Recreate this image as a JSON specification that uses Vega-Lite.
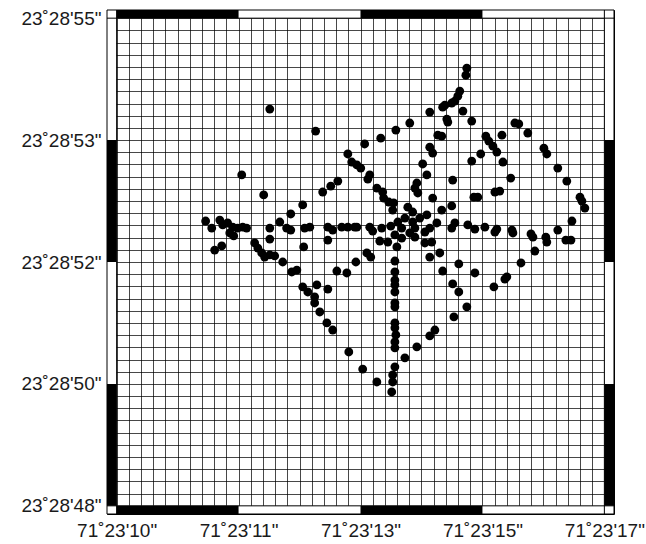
{
  "$schema": "https://vega.github.io/schema/vega-lite/v6.json",
  "width": 507,
  "height": 504,
  "autosize": {"type": "none"},
  "padding": {"left": 107, "top": 10, "right": 32, "bottom": 30},
  "background": "#ffffff",
  "config": {"view": {"stroke": "#000000", "strokeWidth": 1}},
  "resolve": {"axis": {"x": "independent", "y": "independent"}},
  "datasets": {
    "points": [
      {"lon": 71.386628, "lat": 23.481627}, {"lon": 71.386816, "lat": 23.481537}, {"lon": 71.387017, "lat": 23.481484},
      {"lon": 71.387083, "lat": 23.481508}, {"lon": 71.387145, "lat": 23.481541}, {"lon": 71.387202, "lat": 23.481570},
      {"lon": 71.387284, "lat": 23.481615}, {"lon": 71.387337, "lat": 23.481635}, {"lon": 71.387346, "lat": 23.481643},
      {"lon": 71.387374, "lat": 23.481652}, {"lon": 71.387387, "lat": 23.481660}, {"lon": 71.387399, "lat": 23.481680},
      {"lon": 71.387407, "lat": 23.481701}, {"lon": 71.387432, "lat": 23.481766}, {"lon": 71.387436, "lat": 23.481795},
      {"lon": 71.387420, "lat": 23.481619}, {"lon": 71.387456, "lat": 23.481578}, {"lon": 71.387354, "lat": 23.481586},
      {"lon": 71.387358, "lat": 23.481574}, {"lon": 71.387317, "lat": 23.481520}, {"lon": 71.387333, "lat": 23.481516},
      {"lon": 71.387284, "lat": 23.481471}, {"lon": 71.387296, "lat": 23.481447}, {"lon": 71.387255, "lat": 23.481402},
      {"lon": 71.387272, "lat": 23.481357}, {"lon": 71.387231, "lat": 23.481324}, {"lon": 71.387235, "lat": 23.481283},
      {"lon": 71.387378, "lat": 23.481336}, {"lon": 71.387456, "lat": 23.481414}, {"lon": 71.387493, "lat": 23.481443},
      {"lon": 71.387514, "lat": 23.481516}, {"lon": 71.387526, "lat": 23.481496}, {"lon": 71.387543, "lat": 23.481475},
      {"lon": 71.387559, "lat": 23.481451}, {"lon": 71.387580, "lat": 23.481520}, {"lon": 71.387584, "lat": 23.481410},
      {"lon": 71.387616, "lat": 23.481344}, {"lon": 71.387633, "lat": 23.481570}, {"lon": 71.387649, "lat": 23.481566},
      {"lon": 71.387686, "lat": 23.481529}, {"lon": 71.387752, "lat": 23.481467}, {"lon": 71.387764, "lat": 23.481443},
      {"lon": 71.387809, "lat": 23.481385}, {"lon": 71.387846, "lat": 23.481332}, {"lon": 71.387900, "lat": 23.481266},
      {"lon": 71.387908, "lat": 23.481250}, {"lon": 71.387920, "lat": 23.481221}, {"lon": 71.387867, "lat": 23.481168},
      {"lon": 71.387551, "lat": 23.481287}, {"lon": 71.387571, "lat": 23.481291}, {"lon": 71.387465, "lat": 23.481266},
      {"lon": 71.387481, "lat": 23.481266}, {"lon": 71.387296, "lat": 23.481262}, {"lon": 71.387374, "lat": 23.481230},
      {"lon": 71.387333, "lat": 23.481213},
      {"lon": 71.386948, "lat": 23.481443}, {"lon": 71.386964, "lat": 23.481410}, {"lon": 71.386985, "lat": 23.481398},
      {"lon": 71.387001, "lat": 23.481385}, {"lon": 71.387038, "lat": 23.481357}, {"lon": 71.387030, "lat": 23.481340},
      {"lon": 71.387067, "lat": 23.481303}, {"lon": 71.387091, "lat": 23.481287}, {"lon": 71.387095, "lat": 23.481262},
      {"lon": 71.387116, "lat": 23.481246}, {"lon": 71.387136, "lat": 23.481242}, {"lon": 71.387132, "lat": 23.481213},
      {"lon": 71.386907, "lat": 23.481332}, {"lon": 71.386878, "lat": 23.481311}, {"lon": 71.386845, "lat": 23.481287},
      {"lon": 71.386763, "lat": 23.481234}, {"lon": 71.386714, "lat": 23.481197}, {"lon": 71.386513, "lat": 23.481357},
      {"lon": 71.386603, "lat": 23.481275},
      {"lon": 71.387223, "lat": 23.481303}, {"lon": 71.387194, "lat": 23.481225}, {"lon": 71.387214, "lat": 23.481205},
      {"lon": 71.387272, "lat": 23.481193}, {"lon": 71.386985, "lat": 23.481143}, {"lon": 71.387038, "lat": 23.481143},
      {"lon": 71.387050, "lat": 23.481127}, {"lon": 71.387087, "lat": 23.481139}, {"lon": 71.387124, "lat": 23.481147},
      {"lon": 71.387153, "lat": 23.481164}, {"lon": 71.387169, "lat": 23.481139}, {"lon": 71.387182, "lat": 23.481180},
      {"lon": 71.387141, "lat": 23.481111}, {"lon": 71.387169, "lat": 23.481098}, {"lon": 71.387202, "lat": 23.481119},
      {"lon": 71.387223, "lat": 23.481139}, {"lon": 71.387214, "lat": 23.481164}, {"lon": 71.387243, "lat": 23.481180},
      {"lon": 71.387112, "lat": 23.481082}, {"lon": 71.387149, "lat": 23.481062}, {"lon": 71.387223, "lat": 23.481102},
      {"lon": 71.387264, "lat": 23.481123}, {"lon": 71.387284, "lat": 23.481139}, {"lon": 71.387313, "lat": 23.481160},
      {"lon": 71.387292, "lat": 23.481082}, {"lon": 71.387374, "lat": 23.481139}, {"lon": 71.387079, "lat": 23.481086},
      {"lon": 71.387026, "lat": 23.481037}, {"lon": 71.387042, "lat": 23.481020}, {"lon": 71.387141, "lat": 23.481004},
      {"lon": 71.387284, "lat": 23.481020}, {"lon": 71.387325, "lat": 23.481037},
      {"lon": 71.386365, "lat": 23.481168}, {"lon": 71.386390, "lat": 23.481139}, {"lon": 71.386423, "lat": 23.481172},
      {"lon": 71.386435, "lat": 23.481152}, {"lon": 71.386455, "lat": 23.481160}, {"lon": 71.386476, "lat": 23.481143},
      {"lon": 71.386496, "lat": 23.481139}, {"lon": 71.386517, "lat": 23.481143}, {"lon": 71.386533, "lat": 23.481139},
      {"lon": 71.386464, "lat": 23.481119}, {"lon": 71.386480, "lat": 23.481107}, {"lon": 71.386402, "lat": 23.481049},
      {"lon": 71.386431, "lat": 23.481066}, {"lon": 71.386566, "lat": 23.481078}, {"lon": 71.386579, "lat": 23.481057},
      {"lon": 71.386595, "lat": 23.481037}, {"lon": 71.386607, "lat": 23.481020}, {"lon": 71.386628, "lat": 23.481029},
      {"lon": 71.386648, "lat": 23.481025}, {"lon": 71.386628, "lat": 23.481139}, {"lon": 71.386628, "lat": 23.481094},
      {"lon": 71.386669, "lat": 23.481164}, {"lon": 71.386697, "lat": 23.481139}, {"lon": 71.386714, "lat": 23.481131},
      {"lon": 71.386771, "lat": 23.481139}, {"lon": 71.386792, "lat": 23.481143}, {"lon": 71.386866, "lat": 23.481143},
      {"lon": 71.386886, "lat": 23.481131}, {"lon": 71.386923, "lat": 23.481143}, {"lon": 71.386948, "lat": 23.481143},
      {"lon": 71.386976, "lat": 23.481143}, {"lon": 71.386767, "lat": 23.481062}, {"lon": 71.386866, "lat": 23.481090},
      {"lon": 71.386681, "lat": 23.481000}, {"lon": 71.386718, "lat": 23.480959}, {"lon": 71.386739, "lat": 23.480967},
      {"lon": 71.386763, "lat": 23.480898}, {"lon": 71.386784, "lat": 23.480877}, {"lon": 71.386812, "lat": 23.480857},
      {"lon": 71.386812, "lat": 23.480832}, {"lon": 71.386833, "lat": 23.480795}, {"lon": 71.386821, "lat": 23.480906},
      {"lon": 71.386866, "lat": 23.480889}, {"lon": 71.386862, "lat": 23.480750}, {"lon": 71.386886, "lat": 23.480721},
      {"lon": 71.386952, "lat": 23.480631}, {"lon": 71.386903, "lat": 23.480963}, {"lon": 71.386944, "lat": 23.480955},
      {"lon": 71.386981, "lat": 23.481000},
      {"lon": 71.387141, "lat": 23.480959}, {"lon": 71.387141, "lat": 23.480926}, {"lon": 71.387141, "lat": 23.480906},
      {"lon": 71.387141, "lat": 23.480877}, {"lon": 71.387141, "lat": 23.480832}, {"lon": 71.387141, "lat": 23.480816},
      {"lon": 71.387141, "lat": 23.480750}, {"lon": 71.387141, "lat": 23.480730}, {"lon": 71.387145, "lat": 23.480701},
      {"lon": 71.387141, "lat": 23.480672}, {"lon": 71.387141, "lat": 23.480648}, {"lon": 71.387141, "lat": 23.480570},
      {"lon": 71.387132, "lat": 23.480537}, {"lon": 71.387132, "lat": 23.480508}, {"lon": 71.387128, "lat": 23.480467},
      {"lon": 71.387009, "lat": 23.480561}, {"lon": 71.387067, "lat": 23.480508}, {"lon": 71.387182, "lat": 23.480607},
      {"lon": 71.387231, "lat": 23.480652}, {"lon": 71.387284, "lat": 23.480697}, {"lon": 71.387305, "lat": 23.480721},
      {"lon": 71.387264, "lat": 23.481078}, {"lon": 71.387337, "lat": 23.480963}, {"lon": 71.387403, "lat": 23.480992},
      {"lon": 71.387378, "lat": 23.480910}, {"lon": 71.387403, "lat": 23.480877}, {"lon": 71.387436, "lat": 23.480816},
      {"lon": 71.387383, "lat": 23.480775}, {"lon": 71.387469, "lat": 23.480955}, {"lon": 71.387547, "lat": 23.480898},
      {"lon": 71.387592, "lat": 23.480930}, {"lon": 71.387600, "lat": 23.480939}, {"lon": 71.387658, "lat": 23.480996},
      {"lon": 71.387715, "lat": 23.481045},
      {"lon": 71.387387, "lat": 23.481160}, {"lon": 71.387440, "lat": 23.481152}, {"lon": 71.387469, "lat": 23.481135},
      {"lon": 71.387510, "lat": 23.481143}, {"lon": 71.387559, "lat": 23.481135}, {"lon": 71.387551, "lat": 23.481123},
      {"lon": 71.387621, "lat": 23.481131}, {"lon": 71.387625, "lat": 23.481119}, {"lon": 71.387699, "lat": 23.481115},
      {"lon": 71.387707, "lat": 23.481102}, {"lon": 71.387760, "lat": 23.481102}, {"lon": 71.387764, "lat": 23.481082},
      {"lon": 71.387809, "lat": 23.481131}, {"lon": 71.387842, "lat": 23.481090}, {"lon": 71.387863, "lat": 23.481090}
    ],
    "frameWhite": [
      {"x1": 71.3859605, "x2": 71.3880395, "y1": 23.482, "y2": 23.4820335},
      {"x1": 71.3859605, "x2": 71.3880395, "y1": 23.4799665, "y2": 23.48},
      {"x1": 71.3859605, "x2": 71.386, "y1": 23.4799665, "y2": 23.4820335},
      {"x1": 71.388, "x2": 71.3880395, "y1": 23.4799665, "y2": 23.4820335}
    ],
    "frameBlack": [
      {"x1": 71.386, "x2": 71.3865, "y1": 23.482, "y2": 23.4820335},
      {"x1": 71.387, "x2": 71.3875, "y1": 23.482, "y2": 23.4820335},
      {"x1": 71.386, "x2": 71.3865, "y1": 23.4799665, "y2": 23.48},
      {"x1": 71.387, "x2": 71.3875, "y1": 23.4799665, "y2": 23.48},
      {"x1": 71.3859605, "x2": 71.386, "y1": 23.48, "y2": 23.4805},
      {"x1": 71.3859605, "x2": 71.386, "y1": 23.481, "y2": 23.4815},
      {"x1": 71.388, "x2": 71.3880395, "y1": 23.48, "y2": 23.4805},
      {"x1": 71.388, "x2": 71.3880395, "y1": 23.481, "y2": 23.4815}
    ],
    "innerX": [{"v": 71.386}, {"v": 71.388}],
    "innerY": [{"v": 23.48}, {"v": 23.482}],
    "outerX": [{"v": 71.3859605}, {"v": 71.3880395}],
    "outerY": [{"v": 23.4799665}, {"v": 23.4820335}]
  },
  "layer": [
    {
      "data": {"name": "points"},
      "mark": {"type": "circle", "size": 70, "opacity": 0},
      "encoding": {
        "x": {
          "field": "lon", "type": "quantitative",
          "scale": {"domain": [71.3859605, 71.3880395], "nice": false, "zero": false},
          "axis": {
            "values": [71.386, 71.38605, 71.3861, 71.38615, 71.3862, 71.38625, 71.3863, 71.38635, 71.3864, 71.38645, 71.3865, 71.38655, 71.3866, 71.38665, 71.3867, 71.38675, 71.3868, 71.38685, 71.3869, 71.38695, 71.387, 71.38705, 71.3871, 71.38715, 71.3872, 71.38725, 71.3873, 71.38735, 71.3874, 71.38745, 71.3875, 71.38755, 71.3876, 71.38765, 71.3877, 71.38775, 71.3878, 71.38785, 71.3879, 71.38795, 71.388],
            "grid": true, "gridColor": "#000000", "gridOpacity": 0.72, "gridWidth": 1,
            "ticks": false, "domain": false, "title": null,
            "labelExpr": "abs(datum.value*2000-round(datum.value*2000))<0.001 ? floor(datum.value) + '˚' + floor((datum.value-floor(datum.value))*60+1e-9) + \"'\" + round(((datum.value-floor(datum.value))*60-floor((datum.value-floor(datum.value))*60+1e-9))*60) + '\"' : ''",
            "labelFont": "Liberation Sans", "labelFontSize": 19, "labelColor": "#1a1a1a",
            "labelPadding": 7, "labelFlush": false, "labelOverlap": false, "labelBound": false
          }
        },
        "y": {
          "field": "lat", "type": "quantitative",
          "scale": {"domain": [23.4799665, 23.4820335], "nice": false, "zero": false},
          "axis": {
            "values": [23.48, 23.48005, 23.4801, 23.48015, 23.4802, 23.48025, 23.4803, 23.48035, 23.4804, 23.48045, 23.4805, 23.48055, 23.4806, 23.48065, 23.4807, 23.48075, 23.4808, 23.48085, 23.4809, 23.48095, 23.481, 23.48105, 23.4811, 23.48115, 23.4812, 23.48125, 23.4813, 23.48135, 23.4814, 23.48145, 23.4815, 23.48155, 23.4816, 23.48165, 23.4817, 23.48175, 23.4818, 23.48185, 23.4819, 23.48195, 23.482],
            "grid": true, "gridColor": "#000000", "gridOpacity": 0.72, "gridWidth": 1,
            "ticks": false, "domain": false, "title": null,
            "labelExpr": "abs(datum.value*2000-round(datum.value*2000))<0.001 ? floor(datum.value) + '˚' + floor((datum.value-floor(datum.value))*60+1e-9) + \"'\" + round(((datum.value-floor(datum.value))*60-floor((datum.value-floor(datum.value))*60+1e-9))*60) + '\"' : ''",
            "labelFont": "Liberation Sans", "labelFontSize": 19, "labelColor": "#1a1a1a",
            "labelPadding": 6, "labelFlush": false, "labelOverlap": false, "labelBound": false
          }
        }
      }
    },
    {
      "data": {"name": "frameWhite"},
      "mark": {"type": "rect", "fill": "#ffffff", "strokeWidth": 0},
      "encoding": {
        "x": {"field": "x1", "type": "quantitative", "axis": null, "scale": {"domain": [71.3859605, 71.3880395], "nice": false, "zero": false}},
        "x2": {"field": "x2"},
        "y": {"field": "y1", "type": "quantitative", "axis": null, "scale": {"domain": [23.4799665, 23.4820335], "nice": false, "zero": false}},
        "y2": {"field": "y2"}
      }
    },
    {
      "data": {"name": "innerX"},
      "mark": {"type": "rule", "color": "#000000", "strokeWidth": 1},
      "encoding": {
        "x": {"field": "v", "type": "quantitative", "axis": null, "scale": {"domain": [71.3859605, 71.3880395], "nice": false, "zero": false}}
      }
    },
    {
      "data": {"name": "innerY"},
      "mark": {"type": "rule", "color": "#000000", "strokeWidth": 1},
      "encoding": {
        "y": {"field": "v", "type": "quantitative", "axis": null, "scale": {"domain": [23.4799665, 23.4820335], "nice": false, "zero": false}}
      }
    },
    {
      "data": {"name": "outerX"},
      "mark": {"type": "rule", "color": "#000000", "strokeWidth": 1},
      "encoding": {
        "x": {"field": "v", "type": "quantitative", "axis": null, "scale": {"domain": [71.3859605, 71.3880395], "nice": false, "zero": false}}
      }
    },
    {
      "data": {"name": "outerY"},
      "mark": {"type": "rule", "color": "#000000", "strokeWidth": 1},
      "encoding": {
        "y": {"field": "v", "type": "quantitative", "axis": null, "scale": {"domain": [23.4799665, 23.4820335], "nice": false, "zero": false}}
      }
    },
    {
      "data": {"name": "frameBlack"},
      "mark": {"type": "rect", "fill": "#000000", "strokeWidth": 0},
      "encoding": {
        "x": {"field": "x1", "type": "quantitative", "axis": null, "scale": {"domain": [71.3859605, 71.3880395], "nice": false, "zero": false}},
        "x2": {"field": "x2"},
        "y": {"field": "y1", "type": "quantitative", "axis": null, "scale": {"domain": [23.4799665, 23.4820335], "nice": false, "zero": false}},
        "y2": {"field": "y2"}
      }
    },
    {
      "data": {"name": "points"},
      "mark": {"type": "circle", "size": 78, "color": "#000000", "opacity": 1},
      "encoding": {
        "x": {"field": "lon", "type": "quantitative", "axis": null, "scale": {"domain": [71.3859605, 71.3880395], "nice": false, "zero": false}},
        "y": {"field": "lat", "type": "quantitative", "axis": null, "scale": {"domain": [23.4799665, 23.4820335], "nice": false, "zero": false}}
      }
    }
  ]
}
